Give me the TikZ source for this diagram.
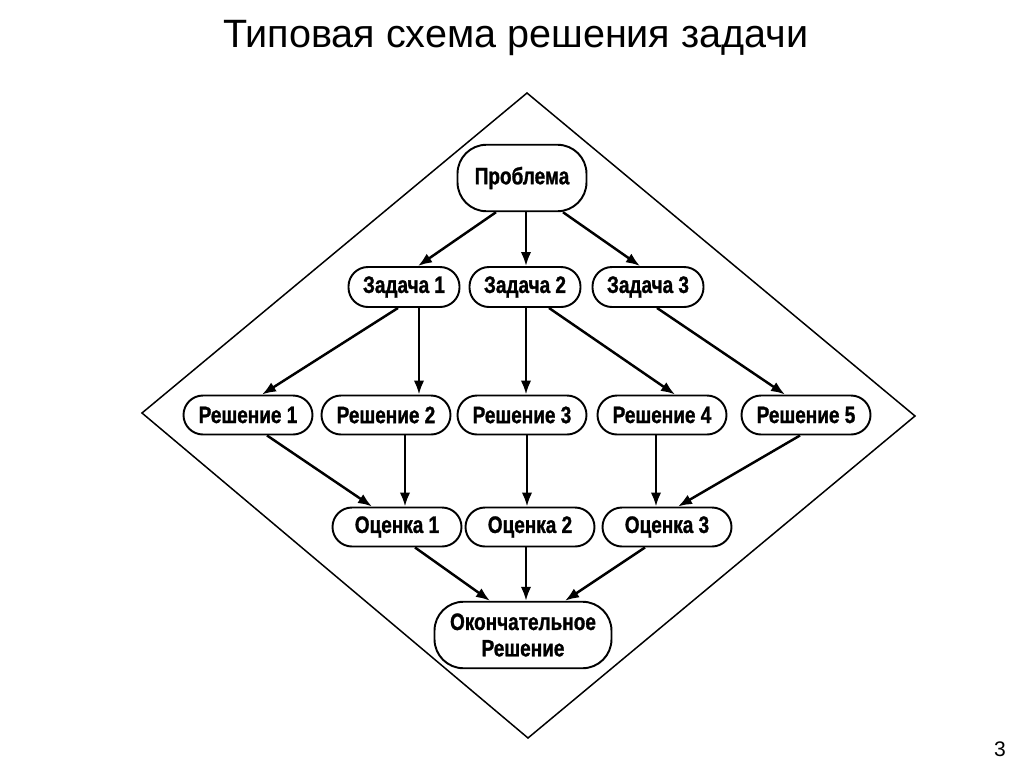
\documentclass[tikz,border=0pt]{standalone}
\usepackage{fontspec}
\setmainfont{Liberation Sans}
\newfontfamily\nodefont[FakeStretch=0.8,FakeBold=1.2]{Liberation Sans}
\usetikzlibrary{arrows.meta}

\begin{document}
\begin{tikzpicture}[x=0.2mm,y=-0.2mm,
    blob/.style={draw,line width=1.1pt,rounded corners=3.9mm,minimum width=25.8mm,minimum height=7.8mm,inner sep=0pt,font=\nodefont\bfseries\fontsize{13.5}{15}\selectfont},
    bigblob/.style={blob,rounded corners=5.8mm,minimum height=13.3mm,align=center},
    arr/.style={line width=1.4pt,-{Latex[length=2.8mm,width=2.1mm]}}]

\useasboundingbox (0,0) rectangle (1024,767);

\node[anchor=base west,font=\fontsize{22.5}{26}\selectfont] (title) at (217,47) {Типовая схема решения задачи};
\node[font=\fontsize{12}{14}\selectfont] (page) at (1000,749) {3};

% outer diamond
\draw[line width=0.85pt] (527,93) -- (915,416) -- (528,738) -- (142,413) -- cycle;

\node[bigblob] (prob) at (522,178) {Проблема};

\foreach \i/\x in {1/404,2/525,3/648}{
    \node[blob,minimum width=22.2mm,minimum height=8mm] (z\i) at (\x,287) {Задача \i};
}

\foreach \i/\x in {1/248,2/386,3/522,4/662,5/806}{
    \node[blob] (r\i) at (\x,415) {Решение \i};
}

\foreach \i/\x in {1/397,2/530,3/667}{
    \node[blob] (o\i) at (\x,527) {Оценка \i};
}

\node[bigblob,minimum width=35.4mm] (fin) at (523,635) {Окончательное\\Решение};

% problem -> tasks
\draw[arr] ([xshift=-5.2mm]prob.south) -- ([xshift=2.8mm]z1.north);
\draw[arr] ([xshift=0.8mm]prob.south) -- ([xshift=0.8mm]prob.south |- z2.north);
\draw[arr] ([xshift=8.2mm]prob.south) -- ([xshift=-1.6mm]z3.north);

% tasks -> solutions
\draw[arr] ([xshift=-1.2mm]z1.south) -- ([xshift=2.8mm]r1.north);
\draw[arr] ([xshift=3mm]z1.south) -- ([xshift=3mm]z1.south |- r2.north);
\draw[arr] ([xshift=0.2mm]z2.south) -- ([xshift=0.2mm]z2.south |- r3.north);
\draw[arr] ([xshift=4.8mm]z2.south) -- ([xshift=2.6mm]r4.north);
\draw[arr] ([xshift=1.8mm]z3.south) -- ([xshift=-4.2mm]r5.north);

% solutions -> estimates
\draw[arr] ([xshift=3.8mm]r1.south) -- ([xshift=-5mm]o1.north);
\draw[arr] ([xshift=3.8mm]r2.south) -- ([xshift=3.8mm]r2.south |- o1.north);
\draw[arr] ([xshift=1mm]r3.south) -- ([xshift=1mm]r3.south |- o2.north);
\draw[arr] ([xshift=-1.2mm]r4.south) -- ([xshift=-1.2mm]r4.south |- o3.north);
\draw[arr] ([xshift=-1.2mm]r5.south) -- ([xshift=2.2mm]o3.north);

% estimates -> final
\draw[arr] ([xshift=3.6mm]o1.south) -- ([xshift=-6.6mm]fin.north);
\draw[arr] ([xshift=-0.8mm]o2.south) -- ([xshift=-0.8mm]o2.south |- fin.north);
\draw[arr] ([xshift=-4.4mm]o3.south) -- ([xshift=8.4mm]fin.north);

\end{tikzpicture}
\end{document}
